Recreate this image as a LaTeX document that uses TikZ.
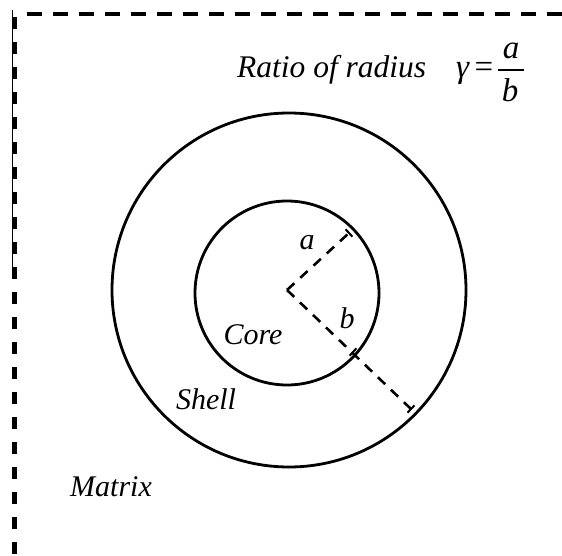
\documentclass[tikz,border=0pt]{standalone}
\usepackage{fontspec}
\setmainfont{Liberation Serif}
\usetikzlibrary{arrows.meta,calc}
\begin{document}
\begin{tikzpicture}[x=1pt,y=-1pt,
  lbl/.style={font=\fontsize{30}{34}\selectfont\itshape, inner sep=0pt},
  ttl/.style={font=\fontsize{31.5}{36}\selectfont\itshape, inner sep=0pt},
  frc/.style={font=\fontsize{33}{38}\selectfont\itshape, inner sep=0pt},
  ring/.style={line width=2.8pt},
  rad/.style={line width=2.6pt, dash pattern=on 10pt off 8pt},
  tick/.style={line width=2pt},
]
\useasboundingbox (0,0) rectangle (562,556);
% frame
\draw[line width=4pt, dash pattern=on 15pt off 11pt] (27,14) -- (566,14);
\draw[line width=5pt, dash pattern=on 12pt off 13pt] (14,17) -- (14,560);
\draw[line width=1pt] (12,10) -- (12,268);
% circles
\draw[ring] (289,290) circle[radius=177];
\draw[ring] (287,293) circle[radius=92];
% radii
\coordinate (c) at (287,290);
\coordinate (ea) at (349,233);
\coordinate (eb) at (411,409);
\coordinate (tb) at (353,352);
\draw[rad] (c) -- (ea);
\draw[rad] (c) -- (eb);
\draw[tick] ($(ea)!5pt!90:(c)$) -- ($(ea)!5pt!-90:(c)$);
\draw[tick] ($(tb)!5pt!90:(c)$) -- ($(tb)!5pt!-90:(c)$);
\draw[tick] ($(eb)!5pt!90:(c)$) -- ($(eb)!5pt!-90:(c)$);
% labels
\node[lbl] (la) at (307,243) {a};
\node[lbl] (lb) at (347,318) {b};
\node[lbl] (core) at (253,335) {Core};
\node[lbl] (shell) at (206,399) {Shell};
\node[lbl] (matrix) at (111,487) {Matrix};
% ratio
\node[ttl, anchor=base west] (title) at (237,78) {Ratio of radius};
\node[frc, anchor=base west] (gamma) at (456,78) {γ};
\node[frc] (eq) at (484,70) {\upshape =};
\node[frc, anchor=base] (num) at (511,59) {a};
\node[frc, anchor=base] (den) at (510,102) {b};
\coordinate (barl) at (498,70);
\coordinate (barr) at (524,70);
\draw[line width=1.6pt] (barl) -- (barr);
\end{tikzpicture}
\end{document}
